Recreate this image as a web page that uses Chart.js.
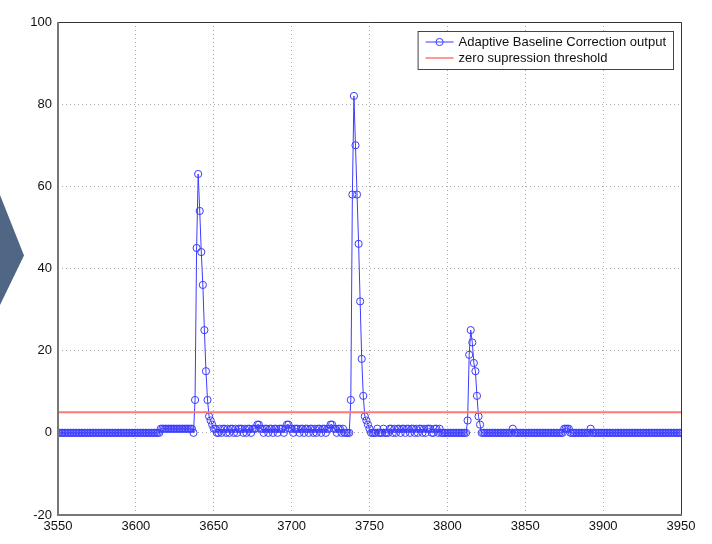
<!DOCTYPE html>
<html>
<head>
<meta charset="utf-8">
<script src="https://cdn.jsdelivr.net/npm/chart.js@4.4.1/dist/chart.umd.min.js"></script>
<style>
  body { margin: 0; background: #fff; }
  #wrap { position: relative; width: 712px; height: 544px; }
  #chev { position: absolute; left: 0; top: 195px; width: 24px; height: 110px;
          background: #4f6784; clip-path: polygon(0 0, 100% 55%, 0 100%); }
  canvas { position: absolute; left: 0; top: 0; }
</style>
</head>
<body>
<div id="wrap">
  <div id="chev"></div>
  <canvas id="graph" width="712" height="544"></canvas>
</div>
<script>
// values, one per sample, starting at x = 3550
const xStart = 3550;
const lead = [
  0,0,0,0,0,0,0,0,0,0,
  0,0,0,0,0,0,0,0,0,0,
  0,0,0,0,0,0,0,0,0,0,
  0,0,0,0,0,0,0,0,0,0,
  0,0,0,0,0,0,0,0,0,0,
  0,0,0,0,0,0,0,0,0,0,
  0,0,0,0,0,0,1,1,1,1,
  1,1,1,1,1,1,1,1,1,1,
  1,1,1,1,1,1,1,0
];
const peak1 = [8,45,63,54,44,36,25,15,8,4,3,2,1];
const gap1 = [
  1,0,0,1,0,1,1,0,1,0,
  1,1,0,1,0,1,1,1,0,1,
  0,1,1,0,1,1,1,2,2,1,
  1,0,1,1,0,1,1,0,1,1,
  0,1,1,1,0,1,2,2,1,1,
  0,1,1,1,0,1,1,0,1,1,
  0,1,1,0,1,0,1,1,0,1,
  1,0,1,1,2,2,1,1,0,1,
  1,0,1,0,0,0,0
];
const peak2 = [8,58,82,70,58,46,32,18,9,4,3,2,1,0];
const gap2 = [
  0,0,0,1,0,0,0,1,0,0,
  0,1,1,0,1,0,1,1,0,1,
  1,0,1,1,0,1,1,0,1,0,
  1,1,0,1,0,1,1,1,0,0,
  1,1,0,1,0,0,0,0,0,0,
  0,0,0,0,0,0,0,0,0,0,0
];
const peak3 = [3,19,25,22,17,15,9,4,2,0];
const tail = [
  0,0,0,0,0,0,0,0,0,0,
  0,0,0,0,0,0,0,0,0,1,
  0,0,0,0,0,0,0,0,0,0,
  0,0,0,0,0,0,0,0,0,0,
  0,0,0,0,0,0,0,0,0,0,
  0,0,1,1,1,1,0,0,0,0,
  0,0,0,0,0,0,0,0,0,1,
  0,0,0,0,0,0,0,0,0,0,
  0,0,0,0,0,0,0,0,0,0,
  0,0,0,0,0,0,0,0,0,0,
  0,0,0,0,0,0,0,0,0,0,
  0,0,0,0,0,0,0,0,0,0,
  0,0,0,0,0,0,0,0
];
const threshold = 5;
const xTicks = [3550,3600,3650,3700,3750,3800,3850,3900,3950];
const yTicks = [-20,0,20,40,60,80,100];
const seriesNames = ["Adaptive Baseline Correction output", "zero supression threshold"];

const output = lead.concat(peak1, gap1, peak2, gap2, peak3, tail);
const outputPts = output.map((v, i) => ({x: xStart + i, y: v}));
const threshPts = [{x: xTicks[0], y: threshold}, {x: xTicks[xTicks.length-1], y: threshold}];

const blue = "rgb(60,60,255)";
const red = "rgb(255,120,120)";

Chart.defaults.font.family = "'Liberation Sans', Arial, sans-serif";
Chart.defaults.font.size = 13;
Chart.defaults.color = "#111";

// box round the axes, like matlab
const frame = {
  id: "frame",
  afterDraw(chart) {
    const a = chart.chartArea, c = chart.ctx;
    c.save();
    c.strokeStyle = "#333";
    c.lineWidth = 1;
    c.beginPath();
    c.moveTo(a.left, a.top + 0.5); c.lineTo(a.right + 0.5, a.top + 0.5); c.lineTo(a.right + 0.5, a.bottom);
    c.stroke();
    c.strokeStyle = "#777";
    c.lineWidth = 2;
    c.beginPath();
    c.moveTo(a.left, a.top); c.lineTo(a.left, a.bottom); c.lineTo(a.right + 1, a.bottom);
    c.stroke();
    c.restore();
  }
};

// legend box inside the plot, top right
const boxLegend = {
  id: "boxLegend",
  afterDraw(chart) {
    const a = chart.chartArea, c = chart.ctx;
    c.save();
    c.font = "13px 'Liberation Sans', Arial, sans-serif";
    const tw = Math.max(...seriesNames.map(s => c.measureText(s).width));
    const w = tw + 48, h = 38;
    const x = a.right - 8 - w, y = a.top + 9;
    c.fillStyle = "#fff";
    c.fillRect(x, y, w, h);
    c.strokeStyle = "#444";
    c.lineWidth = 1;
    c.strokeRect(x + 0.5, y + 0.5, w, h);
    const rows = [y + 11, y + 27];
    // row 1
    c.strokeStyle = blue;
    c.beginPath(); c.moveTo(x + 8, rows[0]); c.lineTo(x + 36, rows[0]); c.stroke();
    c.beginPath(); c.arc(x + 22, rows[0], 3.6, 0, 2 * Math.PI); c.stroke();
    // row 2
    c.strokeStyle = red;
    c.lineWidth = 1.5;
    c.beginPath(); c.moveTo(x + 8, rows[1]); c.lineTo(x + 36, rows[1]); c.stroke();
    c.fillStyle = "#111";
    c.textBaseline = "middle";
    c.fillText(seriesNames[0], x + 41, rows[0]);
    c.fillText(seriesNames[1], x + 41, rows[1]);
    c.restore();
  }
};

const gridStyle = { color: "#aaa", lineWidth: 1, drawTicks: false };

new Chart("graph", {
  type: "line",
  data: {
    datasets: [{
      label: seriesNames[0],
      data: outputPts,
      borderColor: blue,
      borderWidth: 1,
      pointStyle: "circle",
      pointRadius: 3.6,
      pointBorderWidth: 1,
      pointBorderColor: blue,
      pointBackgroundColor: "rgba(0,0,0,0)",
      tension: 0,
      order: 1
    }, {
      label: seriesNames[1],
      data: threshPts,
      borderColor: red,
      borderWidth: 2,
      pointRadius: 0,
      order: 0
    }]
  },
  options: {
    responsive: false,
    animation: false,
    layout: { padding: { left: 0, right: 31, top: 22, bottom: 0 } },
    plugins: { legend: { display: false }, tooltip: { enabled: false } },
    scales: {
      x: {
        type: "linear",
        min: xTicks[0],
        max: xTicks[xTicks.length-1],
        afterBuildTicks: s => { s.ticks = xTicks.map(v => ({value: v})); },
        afterFit: s => { s.height = 29; },
        ticks: { padding: 4, maxRotation: 0, callback: v => String(v) },
        grid: gridStyle,
        border: { display: false, dash: [1, 3] }
      },
      y: {
        min: yTicks[0],
        max: yTicks[yTicks.length-1],
        afterBuildTicks: s => { s.ticks = yTicks.map(v => ({value: v})); },
        afterFit: s => { s.width = 58; },
        ticks: { padding: 6, callback: v => String(v) },
        grid: gridStyle,
        border: { display: false, dash: [1, 3] }
      }
    }
  },
  plugins: [frame, boxLegend]
});
</script>
</body>
</html>
